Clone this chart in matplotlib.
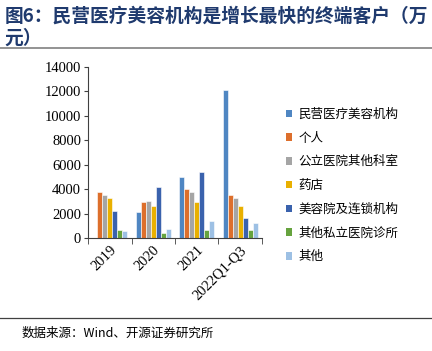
import numpy as np
import matplotlib.pyplot as plt
from matplotlib.patches import Patch

plt.rcParams['font.family'] = ['Noto Sans CJK SC', 'DejaVu Sans']

# datos (unidad: 万元)
anios = ['2019', '2020', '2021', '2022Q1-Q3']
series = ['民营医疗美容机构', '个人', '公立医院其他科室', '药店',
          '美容院及连锁机构', '其他私立医院诊所', '其他']
minying = [0, 2100, 5000, 12100]
geren = [3800, 2950, 4050, 3550]
gongli = [3550, 3050, 3800, 3250]
yaodian = [3300, 2600, 2980, 2620]
meirongyuan = [2200, 4150, 5380, 1620]
qita_sili = [620, 420, 620, 650]
qita = [560, 720, 1420, 1220]
valores = [minying, geren, gongli, yaodian, meirongyuan, qita_sili, qita]
colores = ['#4f86c2', '#dd6f2c', '#a5a5a5', '#e9b000', '#3a62ad', '#66a33e', '#9dc0e4']

fig = plt.figure(figsize=(4.32, 3.51), dpi=100)
ax = fig.add_axes([0.204, 0.322, 0.402, 0.487])

x = np.arange(len(anios))
ancho = 0.115
for i, (vals, col) in enumerate(zip(valores, colores)):
    ax.bar(x + (i - 3) * ancho, vals, width=ancho, color=col,
           edgecolor='white', linewidth=0.4)

ax.set_xlim(-0.5, len(anios) - 0.5)
ax.set_ylim(0, 14000)
ax.set_yticks(range(0, 14001, 2000))
ax.set_xticks(x)
ax.set_xticks(np.arange(-0.5, len(anios), 1), minor=True)
ax.tick_params(axis='x', which='major', length=0, pad=4)
ax.tick_params(axis='x', which='minor', length=4, color='#404040')
ax.tick_params(axis='y', length=3, color='#404040', pad=2)
ax.set_xticklabels(anios, rotation=45, ha='right', rotation_mode='anchor',
                   family='Liberation Serif', fontsize=10.5)
for t in ax.get_yticklabels():
    t.set_family('Liberation Serif')
    t.set_fontsize(10.5)
for s in ['top', 'right']:
    ax.spines[s].set_visible(False)
for s in ['left', 'bottom']:
    ax.spines[s].set_color('#404040')
    ax.spines[s].set_linewidth(0.8)

handles = [Patch(facecolor=c, edgecolor='none') for c in colores]
fig.legend(handles, series, loc='upper left', bbox_to_anchor=(0.635, 0.725),
           frameon=False, fontsize=9, handlelength=0.55, handleheight=0.55,
           handletextpad=0.45, labelspacing=0.86)

fig.text(0.01, 0.98, '图6：民营医疗美容机构是增长最快的终端客户（万', fontsize=13.5,
         fontweight='bold', color='#1f3a6e', va='top')
fig.text(0.01, 0.918, '元）', fontsize=13.5, fontweight='bold', color='#1f3a6e', va='top')
fig.add_artist(plt.Line2D([0.0, 1.0], [0.862, 0.862], color='#808080', lw=1.2))
fig.add_artist(plt.Line2D([0.0, 1.0], [0.095, 0.095], color='#404040', lw=0.9))
fig.text(0.05, 0.07, '数据来源：Wind、开源证券研究所', fontsize=9, va='top')

fig.savefig('out.png', dpi=100)
